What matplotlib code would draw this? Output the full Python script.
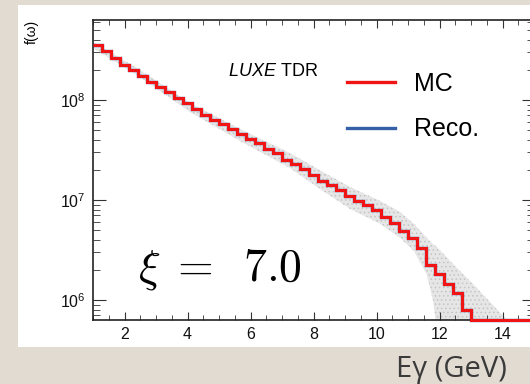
import numpy as np
import matplotlib
matplotlib.use("Agg")
import matplotlib.pyplot as plt
from matplotlib.lines import Line2D
from matplotlib.patches import Rectangle
from matplotlib.ticker import LogLocator, NullFormatter, MultipleLocator

plt.rcParams['font.family'] = ['Liberation Sans', 'DejaVu Sans']
plt.rcParams['mathtext.fontset'] = 'custom'
plt.rcParams['mathtext.rm'] = 'Liberation Sans'
plt.rcParams['mathtext.it'] = 'Liberation Sans:italic'
plt.rcParams['hatch.linewidth'] = 0.6

# Photon energy spectrum, 42 bins between 1 and 13 GeV (values in units of 1e6)
e_lo, e_hi, n_bins = 1.0, 13.0, 42
mc = [355, 309, 265, 224, 200, 172, 152, 136, 119, 105,
      92.7, 80.4, 71.6, 63.8, 56.9, 50.7, 45.2, 40.5, 36.9, 32.1,
      29.7, 25.1, 22.8, 20.3, 17.8, 15.6, 14.1, 12.6, 11.0, 9.84,
      8.91, 7.94, 6.81, 5.89, 4.90, 4.14, 3.33, 2.24, 1.81, 1.44,
      1.17, 0.794]
# reco sits on top of MC everywhere within what the picture resolves
reco = list(mc)

# empty bins above 13 GeV up to the end of the axis
n_empty = 7

# grey uncertainty band (GeV, lower / upper edge in 1e6)
band_e = [1.0, 2.49, 4.08, 5.67, 7.25, 8.30, 9.16, 10.11, 10.75, 11.19,
          11.60, 11.79, 11.92, 12.49, 13.10, 13.67, 14.14, 14.30]
band_hi = [380, 200, 93.3, 51.3, 29.5, 19.1, 13.5, 9.8, 7.6, 5.75,
           4.17, 3.63, 3.39, 2.19, 1.41, 0.91, 0.63, 0.5]
band_lo = [331, 170, 75.9, 38.9, 20.9, 12.3, 8.13, 5.8, 4.17, 3.09,
           1.78, 1.0, 0.5, 0.3, 0.3, 0.3, 0.3, 0.3]

ymin, ymax = 10**5.8, 10**8.8

width = (e_hi - e_lo) / n_bins
edges = e_lo + width * np.arange(n_bins + n_empty + 1)
mc_all = np.array(mc + [0] * n_empty) * 1e6
reco_all = np.array(reco + [0] * n_empty) * 1e6
mc_all = np.where(mc_all > 0, mc_all, ymin)
reco_all = np.where(reco_all > 0, reco_all, ymin)

fig = plt.figure(figsize=(5.3, 3.84), dpi=100)
fig.patch.set_facecolor('#e2dbd1')
fig.patches.append(Rectangle((18 / 530, 37 / 384), 1.0, 342 / 384,
                             transform=fig.transFigure, facecolor='white',
                             edgecolor='none', zorder=-5))

ax = fig.add_axes([93 / 530, 64 / 384, 441 / 530, 300 / 384])
ax.set_facecolor('white')
ax.set_yscale('log')
ax.set_xlim(1, 15)
ax.set_ylim(ymin, ymax)

ax.fill_between(band_e, np.array(band_lo) * 1e6, np.array(band_hi) * 1e6,
                facecolor='#e6e6e6', edgecolor='#c4c4c4', hatch='....',
                linewidth=0, zorder=1)
ax.stairs(reco_all, edges, baseline=None, color='#3560a8', linewidth=2.4,
          zorder=2, clip_on=False)
ax.stairs(mc_all, edges, baseline=None, color='#f01414', linewidth=2.2,
          zorder=3, clip_on=False)

# ticks
ax.xaxis.set_major_locator(MultipleLocator(2))
ax.xaxis.set_minor_locator(MultipleLocator(0.5))
ax.yaxis.set_major_locator(LogLocator(base=10))
ax.yaxis.set_minor_locator(LogLocator(base=10, subs=np.arange(2, 10)))
ax.yaxis.set_minor_formatter(NullFormatter())
ax.tick_params(which='both', direction='in', top=True, right=True,
               colors='#333333', labelcolor='#111111', labelsize=11.5)
ax.tick_params(axis='x', which='major', length=6, pad=5)
ax.tick_params(axis='x', which='minor', length=3.6)
ax.tick_params(axis='y', which='major', length=9, pad=5)
ax.tick_params(axis='y', which='minor', length=5)
for s in ax.spines.values():
    s.set_linewidth(1.2)
    s.set_color('#222222')

ax.set_ylabel('f(ω)', loc='top', fontsize=10)
ax.yaxis.set_label_coords(-(93 - 39) / 441, 1.0)
ax.set_xlabel('Eγ (GeV)', loc='right', fontsize=21, family='Open Sans', color='#3a3a3a')
ax.xaxis.set_label_coords((507 - 93) / 441, -(370 - 320) / 300)
ax.xaxis.label.set_va('center')

ax.text((228 - 93) / 441, 1 - (72 - 20) / 300, r'$\mathit{LUXE}$ TDR',
        transform=ax.transAxes, fontsize=13, va='center', ha='left')
ax.text((138 - 93) / 441, 1 - (270 - 20) / 300, r'$\xi\;=\;\;7.0$',
        transform=ax.transAxes, fontsize=33, va='center', ha='left',
        math_fontfamily='cm')

handles = [Line2D([], [], color='#f01414', linewidth=2.4),
           Line2D([], [], color='#3560a8', linewidth=2.4)]
ax.legend(handles, ['MC', 'Reco.'], loc='upper left', frameon=False,
          bbox_to_anchor=((347 - 93) / 441, 1 - (72 - 20) / 300),
          borderpad=0, borderaxespad=0, fontsize=18, handlelength=1.9,
          handletextpad=0.8, labelspacing=0.85)

fig.savefig('out.png', dpi=100)
